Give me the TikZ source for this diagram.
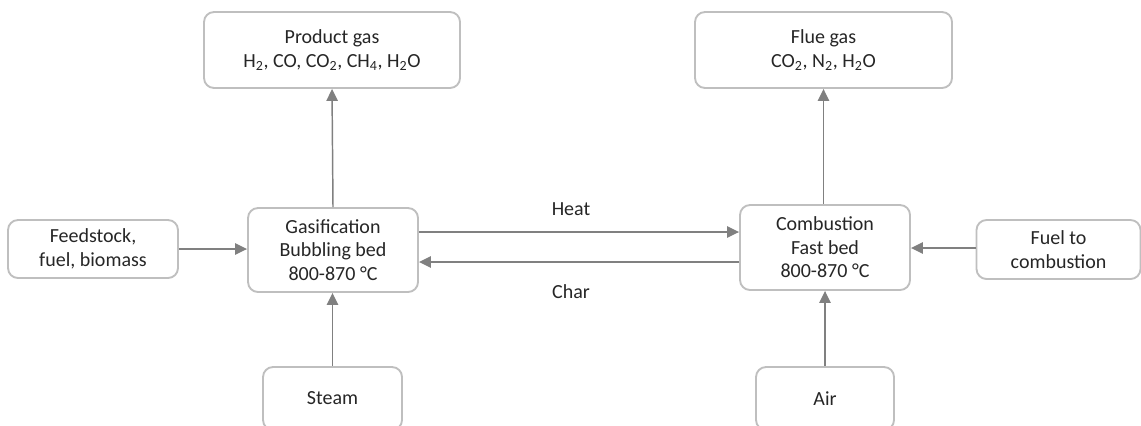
\documentclass[tikz,border=0pt]{standalone}
\usepackage{fontspec}
\setmainfont{Carlito}
\usetikzlibrary{arrows.meta,calc}
\definecolor{boxline}{HTML}{BFBFBF}
\definecolor{arrline}{HTML}{808080}
\definecolor{txt}{HTML}{262626}
\tikzset{
  box/.style={draw=boxline, line width=1.4pt, rounded corners=7.5pt, fill=white,
    align=center, inner sep=0pt, text=txt,
    font=\fontsize{15}{17.6}\selectfont},
  arr/.style={draw=arrline, line width=1.1pt, -{Triangle[length=9pt,width=8.5pt]}},
  lbl/.style={text=txt, font=\fontsize{15}{17.6}\selectfont}
}
\begin{document}
\begin{tikzpicture}[x=0.75pt,y=-0.75pt]
\useasboundingbox (0,0) rectangle (1141,425);
\clip (0,0) rectangle (1141,425);
\node[box, minimum width=256*0.75pt, minimum height=76*0.75pt] (prod) at (332,50)
  {Product gas\\H\textsubscript{2}, CO, CO\textsubscript{2}, CH\textsubscript{4}, H\textsubscript{2}O};
\node[box, minimum width=257*0.75pt, minimum height=76*0.75pt] (flue) at (823.5,50)
  {Flue gas\\CO\textsubscript{2}, N\textsubscript{2}, H\textsubscript{2}O};
\node[box, minimum width=170*0.75pt, minimum height=58*0.75pt] (feed) at (93,249)
  {Feedstock,\\fuel, biomass};
\node[box, minimum width=170*0.75pt, minimum height=84*0.75pt] (gas) at (333,250)
  {Gasification\\Bubbling bed\\800-870 °C};
\node[box, minimum width=170*0.75pt, minimum height=85*0.75pt] (comb) at (825,247.5)
  {Combustion\\Fast bed\\800-870 °C};
\node[box, minimum width=164*0.75pt, minimum height=59*0.75pt] (fuel) at (1058.5,249.5)
  {Fuel to\\combustion};
\node[box, minimum width=139*0.75pt, minimum height=63*0.75pt] (steam) at (332.5,398.5)
  {Steam};
\node[box, minimum width=138*0.75pt, minimum height=63*0.75pt] (air) at (825,398.5)
  {Air};
\coordinate (heaty) at (0,232);
\coordinate (chary) at (0,262);
\coordinate (fuely) at (0,248);
\draw[arr] (gas.north) -- (prod.south);
\draw[arr] (comb.north -| flue.south) -- (flue.south);
\draw[arr] (steam.north) -- (steam.north |- gas.south);
\draw[arr] (air.north) -- (air.north |- comb.south);
\draw[arr] (feed.east) -- (feed.east -| gas.west);
\draw[arr] (fuel.west |- fuely) -- (comb.east |- fuely);
\draw[arr] (gas.east |- heaty) -- (comb.west |- heaty);
\draw[arr] (comb.west |- chary) -- (gas.east |- chary);
\node[lbl] (heat) at (571,209) {Heat};
\node[lbl] (char) at (571,292) {Char};
\end{tikzpicture}
\end{document}
